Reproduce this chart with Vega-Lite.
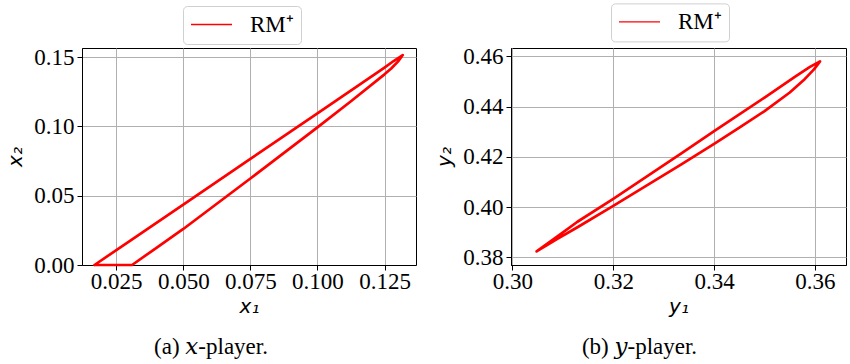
{
  "$schema": "https://vega.github.io/schema/vega-lite/v6.json",
  "background": "white",
  "autosize": {"type": "pad"},
  "padding": {"left": 5, "top": 2, "right": 0, "bottom": 0},
  "spacing": 95,
  "bounds": "flush",
  "datasets": {
    "xp": [
      {"i": 0, "m": "RM⁺", "x": 0.0169, "y": 0.0},
      {"i": 1, "m": "RM⁺", "x": 0.03, "y": 0.0173},
      {"i": 2, "m": "RM⁺", "x": 0.05, "y": 0.0436},
      {"i": 3, "m": "RM⁺", "x": 0.075, "y": 0.0766},
      {"i": 4, "m": "RM⁺", "x": 0.1, "y": 0.1095},
      {"i": 5, "m": "RM⁺", "x": 0.125, "y": 0.1425},
      {"i": 6, "m": "RM⁺", "x": 0.1284, "y": 0.1472},
      {"i": 7, "m": "RM⁺", "x": 0.1318, "y": 0.1515},
      {"i": 8, "m": "RM⁺", "x": 0.13, "y": 0.1468},
      {"i": 9, "m": "RM⁺", "x": 0.1275, "y": 0.1418},
      {"i": 10, "m": "RM⁺", "x": 0.125, "y": 0.1376},
      {"i": 11, "m": "RM⁺", "x": 0.1125, "y": 0.1182},
      {"i": 12, "m": "RM⁺", "x": 0.1, "y": 0.0993},
      {"i": 13, "m": "RM⁺", "x": 0.075, "y": 0.0624},
      {"i": 14, "m": "RM⁺", "x": 0.05, "y": 0.026},
      {"i": 15, "m": "RM⁺", "x": 0.04, "y": 0.0124},
      {"i": 16, "m": "RM⁺", "x": 0.0309, "y": 0.0},
      {"i": 17, "m": "RM⁺", "x": 0.0169, "y": 0.0}
    ],
    "yp": [
      {"i": 0, "m": "RM⁺", "x": 0.3048, "y": 0.3824},
      {"i": 1, "m": "RM⁺", "x": 0.309, "y": 0.3885},
      {"i": 2, "m": "RM⁺", "x": 0.3129, "y": 0.3942},
      {"i": 3, "m": "RM⁺", "x": 0.32, "y": 0.4033},
      {"i": 4, "m": "RM⁺", "x": 0.3335, "y": 0.4214},
      {"i": 5, "m": "RM⁺", "x": 0.34, "y": 0.4302},
      {"i": 6, "m": "RM⁺", "x": 0.35, "y": 0.4436},
      {"i": 7, "m": "RM⁺", "x": 0.356, "y": 0.4518},
      {"i": 8, "m": "RM⁺", "x": 0.359, "y": 0.4558},
      {"i": 9, "m": "RM⁺", "x": 0.361, "y": 0.458},
      {"i": 10, "m": "RM⁺", "x": 0.3598, "y": 0.4548},
      {"i": 11, "m": "RM⁺", "x": 0.358, "y": 0.4510},
      {"i": 12, "m": "RM⁺", "x": 0.355, "y": 0.4456},
      {"i": 13, "m": "RM⁺", "x": 0.35, "y": 0.4382},
      {"i": 14, "m": "RM⁺", "x": 0.345, "y": 0.4316},
      {"i": 15, "m": "RM⁺", "x": 0.34, "y": 0.4252},
      {"i": 16, "m": "RM⁺", "x": 0.3335, "y": 0.4170},
      {"i": 17, "m": "RM⁺", "x": 0.3265, "y": 0.4085},
      {"i": 18, "m": "RM⁺", "x": 0.32, "y": 0.4005},
      {"i": 19, "m": "RM⁺", "x": 0.3129, "y": 0.3920},
      {"i": 20, "m": "RM⁺", "x": 0.309, "y": 0.3875},
      {"i": 21, "m": "RM⁺", "x": 0.3048, "y": 0.3824}
    ]
  },
  "resolve": {"scale": {"color": "independent"}, "legend": {"color": "independent"}},
  "hconcat": [
    {
      "width": 334,
      "height": 217,
      "data": {"name": "xp"},
      "title": {"text": "(a) 𝑥-player.", "orient": "bottom", "anchor": "middle", "dx": -38, "offset": 20},
      "mark": {"type": "line", "strokeWidth": 2.7, "strokeJoin": "round", "strokeCap": "round", "clip": false},
      "encoding": {
        "x": {"field": "x", "type": "quantitative", "scale": {"domain": [0.01225, 0.13674], "nice": false, "zero": false},
              "axis": {"title": "x₁", "values": [0.025, 0.05, 0.075, 0.1, 0.125], "format": ".3f"}},
        "y": {"field": "y", "type": "quantitative", "scale": {"domain": [0, 0.1566], "nice": false, "zero": false},
              "axis": {"title": "x₂", "values": [0, 0.05, 0.1, 0.15], "format": ".2f"}},
        "order": {"field": "i", "type": "quantitative"},
        "color": {"field": "m", "type": "nominal", "scale": {"range": ["#ff0000"]},
                  "legend": {"orient": "none", "legendX": 101, "legendY": -42}}
      }
    },
    {
      "width": 335,
      "height": 217,
      "data": {"name": "yp"},
      "title": {"text": "(b) 𝑦-player.", "orient": "bottom", "anchor": "middle", "dx": -39, "offset": 20},
      "mark": {"type": "line", "strokeWidth": 2.7, "strokeJoin": "round", "strokeCap": "round", "clip": false},
      "encoding": {
        "x": {"field": "x", "type": "quantitative", "scale": {"domain": [0.29972, 0.36615], "nice": false, "zero": false},
              "axis": {"title": "y₁", "values": [0.3, 0.32, 0.34, 0.36], "format": ".2f"}},
        "y": {"field": "y", "type": "quantitative", "scale": {"domain": [0.377, 0.4633], "nice": false, "zero": false},
              "axis": {"title": "y₂", "values": [0.38, 0.4, 0.42, 0.44, 0.46], "format": ".2f"}},
        "order": {"field": "i", "type": "quantitative"},
        "color": {"field": "m", "type": "nominal", "scale": {"range": ["#ff0000"]},
                  "legend": {"orient": "none", "legendX": 100, "legendY": -44.6}}
      }
    }
  ],
  "config": {
    "view": {"stroke": "black", "strokeWidth": 1},
    "axis": {
      "grid": true, "gridColor": "#b0b0b0", "gridWidth": 1,
      "domainColor": "black", "tickColor": "black", "tickSize": 5,
      "labelFont": "Liberation Serif", "labelFontSize": 23, "labelColor": "black",
      "labelFlush": false, "labelOverlap": false, "labelBound": false,
      "titleFont": "DejaVu Sans", "titleFontSize": 20, "titleFontStyle": "italic",
      "titleFontWeight": "normal", "titleColor": "black"
    },
    "axisX": {"labelPadding": 0, "titlePadding": 3},
    "axisY": {"labelPadding": 3, "titlePadding": 8},
    "legend": {
      "title": null, "padding": 7, "clipHeight": 23, "symbolOffset": 0, "strokeColor": "#d0d0d0", "cornerRadius": 4, "fillColor": "white",
      "symbolType": "stroke", "symbolSize": 1681, "symbolStrokeWidth": 1.3, "symbolStrokeColor": "#ff0000",
      "labelFont": "Liberation Serif", "labelFontSize": 23, "labelOffset": 17, "labelColor": "black"
    },
    "title": {"font": "Liberation Serif, DejaVu Serif", "fontSize": 23, "fontWeight": "normal", "color": "black", "baseline": "top"}
  }
}
